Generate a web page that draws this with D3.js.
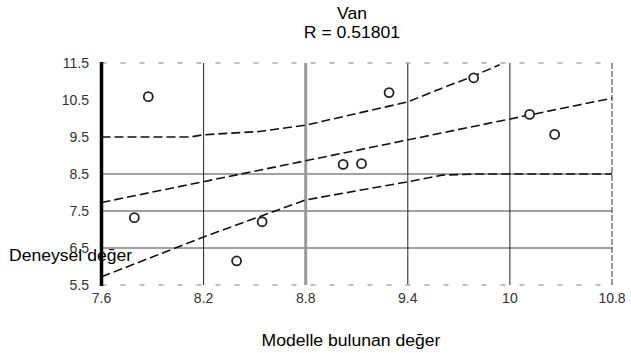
<!DOCTYPE html>
<html><head><meta charset="utf-8">
<script src="https://cdn.jsdelivr.net/npm/d3@7"></script>
<style>body{margin:0;background:#fff}svg{display:block}</style>
</head><body>
<svg id="c" width="631" height="353"></svg>
<script>
// Data
const title = "Van";
const subtitle = "R = 0.51801";
const xLabel = "Modelle bulunan değer";
const yLabel = "Deneysel değer";
const xTickValues = [7.6, 8.2, 8.8, 9.4, 10, 10.6];
const xTickLabels = ["7.6", "8.2", "8.8", "9.4", "10", "10.8"];
const yTickValues = [5.5, 6.5, 7.5, 8.5, 9.5, 10.5, 11.5];
const yTickLabels = ["5.5", "6.5", "7.5", "8.5", "9.5", "10.5", "11.5"];
const pointsX = [7.875, 7.793, 8.544, 8.394, 9.02, 9.128, 9.29, 9.787, 10.116, 10.263];
const pointsY = [10.59, 7.32, 7.21, 6.15, 8.76, 8.78, 10.70, 11.10, 10.11, 9.57];
const fitX = [7.6, 10.6];
const fitY = [7.73, 10.55];
const upperX = [7.6, 8.12, 8.2, 8.53, 8.8, 9.4, 9.59, 9.76, 9.94];
const upperY = [9.5, 9.5, 9.56, 9.65, 9.82, 10.45, 10.8, 11.1, 11.45];
const lowerX = [7.6, 8.2, 8.8, 9.4, 9.6, 9.8, 10.6];
const lowerY = [5.72, 6.8, 7.8, 8.29, 8.47, 8.5, 8.5];
const vGrid = [8.2, 8.8, 9.4, 10];
const hGrid = [6.5, 7.5, 8.5];

const svg = d3.select("#c");
const x = d3.scaleLinear().domain([7.6, 10.6]).range([101.5, 612]);
const y = d3.scaleLinear().domain([5.5, 11.5]).range([285, 63]);

// horizontal grid
svg.append("g").selectAll("line").data(hGrid).join("line")
  .attr("x1", x(7.6)).attr("x2", x(10.6))
  .attr("y1", d => y(d)).attr("y2", d => y(d))
  .attr("stroke", "#444").attr("stroke-width", 1);

// vertical grid
svg.append("g").selectAll("line").data(vGrid).join("line")
  .attr("x1", d => x(d)).attr("x2", d => x(d))
  .attr("y1", y(11.5)).attr("y2", y(5.5))
  .attr("stroke", d => d === 8.8 ? "#999" : "#222")
  .attr("stroke-width", d => d === 8.8 ? 3 : 1);

// top and bottom borders (dashed, light)
[11.5, 5.5].forEach(v => {
  svg.append("line").attr("x1", x(7.6)).attr("x2", x(10.6))
    .attr("y1", y(v)).attr("y2", y(v))
    .attr("stroke", "#aaa").attr("stroke-width", 1.5)
    .attr("stroke-dasharray", "5,14");
});
// right border
svg.append("line").attr("x1", x(10.6)).attr("x2", x(10.6))
  .attr("y1", y(11.5)).attr("y2", y(5.5))
  .attr("stroke", "#555").attr("stroke-width", 1.2)
  .attr("stroke-dasharray", "6,2");
// left axis thick
svg.append("line").attr("x1", x(7.6)).attr("x2", x(7.6))
  .attr("y1", y(11.5) - 1).attr("y2", y(5.5) + 1)
  .attr("stroke", "#000").attr("stroke-width", 3.5);

// lines
const line = d3.line().x(d => x(d[0])).y(d => y(d[1]));
const fitPts = d3.zip(fitX, fitY);
const upPts = d3.zip(upperX, upperY);
const loPts = d3.zip(lowerX, lowerY);
[fitPts, upPts, loPts].forEach(pts => {
  svg.append("path").attr("d", line(pts)).attr("fill", "none")
    .attr("stroke", "#111").attr("stroke-width", 1.6)
    .attr("stroke-dasharray", "9,4");
});

// points
svg.append("g").selectAll("circle").data(d3.zip(pointsX, pointsY)).join("circle")
  .attr("cx", d => x(d[0])).attr("cy", d => y(d[1])).attr("r", 4.5)
  .attr("fill", "#fff").attr("stroke", "#222").attr("stroke-width", 1.8);

// tick labels
const tickFont = "'Liberation Sans', Arial, sans-serif";
svg.append("g").selectAll("text").data(yTickValues).join("text")
  .attr("x", 89).attr("y", d => y(d) + 5)
  .attr("text-anchor", "end").attr("font-family", tickFont)
  .attr("font-size", 14).attr("fill", "#333")
  .text((d, i) => yTickLabels[i]);
svg.append("g").selectAll("text").data(xTickValues).join("text")
  .attr("x", d => x(d)).attr("y", 303)
  .attr("text-anchor", "middle").attr("font-family", tickFont)
  .attr("font-size", 14).attr("fill", "#333")
  .text((d, i) => xTickLabels[i]);

// titles (slightly wide glyphs, as in the reference)
const txtFont = "'Liberation Sans', Arial, sans-serif";
function label(txt, tx, ty, anchor) {
  svg.append("text")
    .attr("transform", `translate(${tx},${ty}) scale(1.1,1)`)
    .attr("text-anchor", anchor)
    .attr("font-family", txtFont).attr("font-size", 16).attr("fill", "#000")
    .text(txt);
}
label(title, 352, 19, "middle");
label(subtitle, 352, 38, "middle");
label(xLabel, 351, 346, "middle");
label(yLabel, 9, 261, "start");
</script>
</body></html>
